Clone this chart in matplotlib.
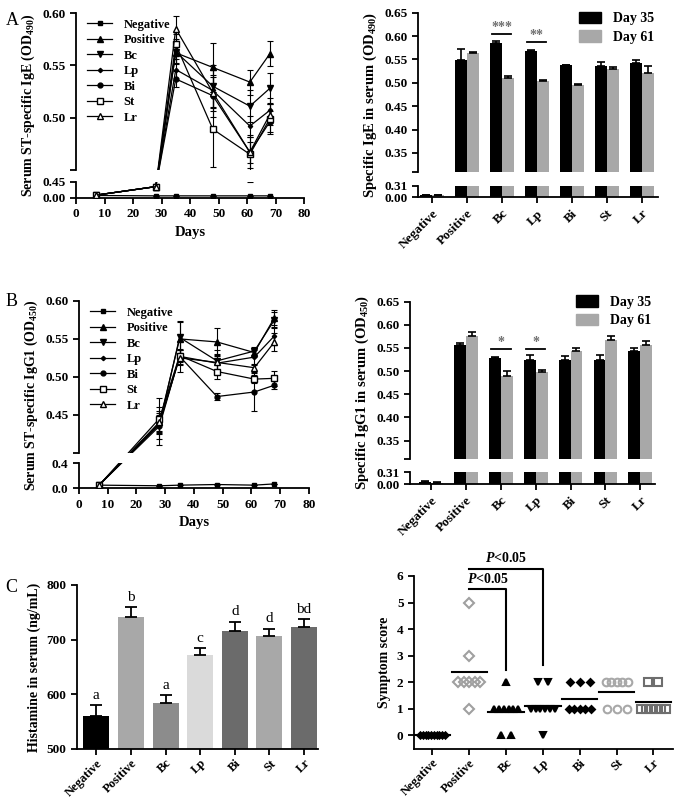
import numpy as np
import matplotlib
matplotlib.use('Agg')
import matplotlib.pyplot as plt
from matplotlib.patches import Rectangle

plt.rcParams['font.family'] = 'Liberation Serif'
plt.rcParams['font.weight'] = 'bold'
plt.rcParams['axes.labelweight'] = 'bold'
plt.rcParams['mathtext.fontset'] = 'custom'
plt.rcParams['mathtext.rm'] = 'Liberation Serif:bold'
plt.rcParams['mathtext.bf'] = 'Liberation Serif:bold'
plt.rcParams['mathtext.it'] = 'Liberation Serif:italic:bold'
plt.rcParams['axes.linewidth'] = 1.3
plt.rcParams['xtick.major.width'] = 1.3
plt.rcParams['ytick.major.width'] = 1.3
plt.rcParams['xtick.major.size'] = 4
plt.rcParams['ytick.major.size'] = 4
plt.rcParams['font.size'] = 9

groups = ['Negative', 'Positive', 'Bc', 'Lp', 'Bi', 'St', 'Lr']
days = [7, 28, 35, 48, 61, 68]

# A: serum IgE over time (rows follow groups)
ige_mean = [[0.07, 0.06, 0.06, 0.06, 0.06, 0.06],
            [0.08, 0.32, 0.562, 0.548, 0.534, 0.561],
            [0.08, 0.32, 0.563, 0.530, 0.511, 0.528],
            [0.08, 0.32, 0.546, 0.526, 0.492, 0.507],
            [0.08, 0.32, 0.537, 0.521, 0.467, 0.496],
            [0.08, 0.32, 0.570, 0.489, 0.465, 0.499],
            [0.08, 0.32, 0.585, 0.524, 0.467, 0.503]]
ige_err = [[0.003, 0.003, 0.003, 0.003, 0.003, 0.003],
           [0.005, 0.01, 0.010, 0.023, 0.012, 0.012],
           [0.005, 0.01, 0.012, 0.020, 0.015, 0.015],
           [0.005, 0.01, 0.010, 0.020, 0.010, 0.012],
           [0.005, 0.01, 0.008, 0.020, 0.015, 0.010],
           [0.005, 0.01, 0.010, 0.036, 0.018, 0.015],
           [0.005, 0.01, 0.012, 0.015, 0.010, 0.010]]

ige_d35 = [0.06, 0.548, 0.586, 0.568, 0.538, 0.536, 0.543]
ige_d35_err = [0.008, 0.024, 0.003, 0.002, 0.001, 0.009, 0.006]
ige_d61 = [0.05, 0.563, 0.511, 0.504, 0.496, 0.529, 0.521]
ige_d61_err = [0.005, 0.004, 0.003, 0.002, 0.001, 0.004, 0.015]

# B: serum IgG1 over time
igg_mean = [[0.05, 0.04, 0.05, 0.06, 0.05, 0.07],
            [0.05, 0.440, 0.550, 0.546, 0.532, 0.578],
            [0.05, 0.437, 0.552, 0.521, 0.534, 0.575],
            [0.05, 0.438, 0.527, 0.518, 0.526, 0.554],
            [0.05, 0.435, 0.527, 0.474, 0.480, 0.489],
            [0.05, 0.445, 0.528, 0.507, 0.497, 0.498],
            [0.05, 0.440, 0.525, 0.519, 0.512, 0.546]]
igg_err = [[0.003, 0.003, 0.003, 0.003, 0.003, 0.003],
           [0.003, 0.012, 0.024, 0.018, 0.006, 0.010],
           [0.003, 0.010, 0.020, 0.015, 0.005, 0.010],
           [0.003, 0.012, 0.010, 0.012, 0.010, 0.012],
           [0.003, 0.025, 0.020, 0.005, 0.025, 0.005],
           [0.003, 0.027, 0.008, 0.010, 0.005, 0.010],
           [0.003, 0.015, 0.010, 0.010, 0.005, 0.012]]

igg_d35 = [0.06, 0.556, 0.529, 0.525, 0.524, 0.525, 0.544]
igg_d35_err = [0.008, 0.005, 0.002, 0.009, 0.009, 0.009, 0.005]
igg_d61 = [0.04, 0.576, 0.489, 0.497, 0.543, 0.567, 0.556]
igg_d61_err = [0.004, 0.009, 0.011, 0.005, 0.006, 0.008, 0.009]

# C: histamine and symptom score
histamine = [561, 742, 585, 671, 715, 707, 724]
histamine_err = [19, 18, 14, 13, 18, 13, 13]
hist_letters = ['a', 'b', 'a', 'c', 'd', 'd', 'bd']
hist_colors = ['#000000', '#a8a8a8', '#8c8c8c', '#dadada', '#6b6b6b', '#a8a8a8', '#6b6b6b']

score_neg = [0, 0, 0, 0, 0, 0, 0, 0, 0, 0]
score_pos = [5, 3, 2, 2, 2, 2, 2, 1]
score_bc = [2, 1, 1, 1, 1, 1, 1, 0, 0]
score_lp = [2, 2, 1, 1, 1, 1, 1, 1, 0]
score_bi = [2, 2, 2, 1, 1, 1, 1, 1]
score_st = [2, 2, 2, 2, 2, 1, 1, 1]
score_lr = [2, 2, 1, 1, 1, 1, 1, 1]

line_markers = [('s', 2.5, 'k'), ('^', 4, 'k'), ('v', 4, 'k'), ('D', 2.2, 'k'),
                ('o', 3.5, 'k'), ('s', 4.5, 'white'), ('^', 4.5, 'white')]


def broken_y(ax, brk, top, fl, fg):
    fu = 1 - fl - fg

    def fwd(y):
        y = np.asarray(y, dtype=float)
        return np.where(y <= brk, y / brk * fl, fl + fg + (y - brk) / (top - brk) * fu)

    def inv(v):
        v = np.asarray(v, dtype=float)
        return np.where(v <= fl, v / fl * brk,
                        np.where(v >= fl + fg, brk + (v - fl - fg) / fu * (top - brk), brk))

    ax.set_yscale('function', functions=(fwd, inv))
    ax.set_ylim(0, top)
    ax.spines['left'].set_visible(False)
    ax.add_patch(Rectangle((0, fl), 1, fg, transform=ax.transAxes,
                           facecolor='white', edgecolor='none', zorder=5))
    ax.plot([0, 0], [0, fl], transform=ax.transAxes, color='k', lw=1.3, clip_on=False, zorder=6)
    ax.plot([0, 0], [fl + fg, 1], transform=ax.transAxes, color='k', lw=1.3, clip_on=False, zorder=6)


def style(ax):
    ax.spines['top'].set_visible(False)
    ax.spines['right'].set_visible(False)
    ax.tick_params(labelsize=9.5)


def line_panel(ax, means, errs, brk, top, fl, fg, yticks, ylabels, ylabel):
    style(ax)
    handles = []
    for i, g in enumerate(groups):
        m, ms, fc = line_markers[i]
        ax.errorbar(days, means[i], yerr=errs[i], fmt='none', ecolor='k',
                    elinewidth=0.8, capsize=2.5, capthick=0.8, zorder=3)
        ln, = ax.plot(days, means[i], marker=m, ms=ms, mfc=fc, mec='k', color='k',
                      lw=0.9, zorder=4)
        handles.append(ln)
    broken_y(ax, brk, top, fl, fg)
    ax.set_yticks(yticks)
    ax.set_yticklabels(ylabels)
    ax.set_xlim(0, 80)
    ax.set_xticks(range(0, 81, 10))
    ax.set_xlabel('Days', fontsize=10.5)
    ax.set_ylabel(ylabel, fontsize=10)
    ax.legend(handles, groups, loc='upper left', bbox_to_anchor=(0.0, 1.03), frameon=False,
              fontsize=9, handlelength=2.0, labelspacing=0.28, handletextpad=0.9)


def bar_panel(ax, d35, e35, d61, e61, brk, top, fl, fg, yticks, ylabels, ylabel, xlim, leg_y):
    style(ax)
    x = np.arange(len(groups))
    w = 0.34
    ax.bar(x - w / 2, d35, w, color='k', zorder=2)
    ax.bar(x + w / 2, d61, w, color='#a8a8a8', zorder=2)
    ax.errorbar(x - w / 2, d35, yerr=[np.zeros(7), e35], fmt='none', ecolor='k',
                elinewidth=1.2, capsize=3, capthick=1.2, zorder=3)
    ax.errorbar(x + w / 2, d61, yerr=[np.zeros(7), e61], fmt='none', ecolor='k',
                elinewidth=1.2, capsize=3, capthick=1.2, zorder=3)
    broken_y(ax, brk, top, fl, fg)
    ax.set_yticks(yticks)
    ax.set_yticklabels(ylabels)
    ax.set_xlim(*xlim)
    ax.set_xticks(x)
    ax.set_xticklabels(groups, rotation=45, ha='right', rotation_mode='anchor')
    ax.set_ylabel(ylabel, fontsize=10.5)
    ax.legend([Rectangle((0, 0), 1, 1, color='k'), Rectangle((0, 0), 1, 1, color='#a8a8a8')],
              ['Day 35', 'Day 61'], loc='upper right', bbox_to_anchor=(1.02, leg_y),
              frameon=False, fontsize=10, handlelength=1.6, handleheight=0.9,
              handletextpad=0.9, labelspacing=0.35, borderaxespad=0.2)


def sig(ax, xc, y, label):
    ax.plot([xc - 0.28, xc + 0.28], [y, y], color='k', lw=1.3, zorder=6)
    ax.text(xc, y, label, ha='center', va='bottom', color='#707070', fontsize=10)


fig = plt.figure(figsize=(6.75, 7.99), dpi=100)

# ---- A ----
ax1 = fig.add_axes([0.1126, 0.7522, 0.3378, 0.2315])
line_panel(ax1, ige_mean, ige_err, 0.45, 0.60, 0.0865, 0.0649,
           [0, 0.45, 0.45 + 1e-9, 0.50, 0.55, 0.60],
           ['0.00', '0.45', '', '0.50', '0.55', '0.60'],
           'Serum ST-specific IgE (OD$_{\\mathbf{490}}$)')

ax2 = fig.add_axes([0.6193, 0.7531, 0.3556, 0.2310])
bar_panel(ax2, ige_d35, ige_d35_err, ige_d61, ige_d61_err, 0.31, 0.65, 0.0628, 0.0758,
          [0, 0.31, 0.31 + 1e-9, 0.35, 0.40, 0.45, 0.50, 0.55, 0.60, 0.65],
          ['0.00', '0.31', '', '0.35', '0.40', '0.45', '0.50', '0.55', '0.60', '0.65'],
          'Specific IgE in serum (OD$_{\\mathbf{490}}$)', (-0.39, 6.47), 1.05)
sig(ax2, 2, 0.605, '***')
sig(ax2, 3, 0.587, '**')

# ---- B ----
ax3 = fig.add_axes([0.117, 0.3889, 0.3407, 0.2344])
line_panel(ax3, igg_mean, igg_err, 0.40, 0.60, 0.1335, 0.0566,
           [0, 0.40, 0.40 + 1e-9, 0.45, 0.50, 0.55, 0.60],
           ['0.0', '0.4', '', '0.45', '0.50', '0.55', '0.60'],
           'Serum ST-specific IgG1 (OD$_{\\mathbf{450}}$)')

ax4 = fig.add_axes([0.6074, 0.3942, 0.363, 0.2282])
bar_panel(ax4, igg_d35, igg_d35_err, igg_d61, igg_d61_err, 0.31, 0.65, 0.0642, 0.073,
          [0, 0.31, 0.31 + 1e-9, 0.35, 0.40, 0.45, 0.50, 0.55, 0.60, 0.65],
          ['0.00', '0.31', '', '0.35', '0.40', '0.45', '0.50', '0.55', '0.60', '0.65'],
          'Specific IgG1 in serum (OD$_{\\mathbf{450}}$)', (-0.6, 6.42), 1.08)
sig(ax4, 2, 0.548, '*')
sig(ax4, 3, 0.548, '*')

# ---- C left ----
ax5 = fig.add_axes([0.114, 0.0626, 0.357, 0.2053])
style(ax5)
xc = np.arange(len(groups))
ax5.bar(xc, histamine, 0.75, color=hist_colors, zorder=2)
ax5.errorbar(xc, histamine, yerr=[np.zeros(7), histamine_err], fmt='none', ecolor='k',
             elinewidth=1.3, capsize=4, capthick=1.3, zorder=3)
for i in range(len(groups)):
    ax5.text(xc[i], histamine[i] + histamine_err[i] + 6, hist_letters[i], ha='center',
             va='bottom', fontsize=11, fontweight='normal')
ax5.set_ylim(500, 800)
ax5.set_yticks([500, 600, 700, 800])
ax5.set_xlim(-0.56, 6.4)
ax5.set_xticks(xc)
ax5.set_xticklabels(groups, rotation=45, ha='right', rotation_mode='anchor')
ax5.tick_params(axis='x', labelsize=9, pad=2)
ax5.set_ylabel('Histamine in serum (ng/mL)', fontsize=10)

# ---- C right ----
ax6 = fig.add_axes([0.6133, 0.063, 0.3837, 0.2161])
style(ax6)
scores = [score_neg, score_pos, score_bc, score_lp, score_bi, score_st, score_lr]
sc_style = [('D', 3.2, 'k', 'k'), ('D', 5, 'none', '#a0a0a0'), ('^', 4.5, 'k', 'k'),
            ('v', 4.5, 'k', 'k'), ('D', 3.5, 'k', 'k'), ('o', 5.5, 'none', '#a8a8a8'),
            ('s', 5.5, 'none', '#6e6e6e')]
for i, s in enumerate(scores):
    s = np.array(s)
    xs = np.zeros(len(s), dtype=float)
    for v in np.unique(s):
        idx = np.where(s == v)[0]
        k = len(idx)
        step = 0.15 if k >= 4 else 0.27
        step = min(step, 0.67 / max(k - 1, 1))
        xs[idx] = i + (np.arange(k) - (k - 1) / 2) * step
    m, ms, fc, ec = sc_style[i]
    ax6.plot(xs, s, ls='none', marker=m, ms=ms, mfc=fc, mec=ec, mew=1.5, zorder=3)
    ax6.plot([i - 0.48, i + 0.48], [s.mean(), s.mean()], color='k', lw=1.5, zorder=4)

ax6.plot([1, 2, 2], [5.5, 5.5, 2.45], color='k', lw=1.5, clip_on=False)
ax6.plot([1, 3, 3], [6.25, 6.25, 2.65], color='k', lw=1.5, clip_on=False)
ax6.text(1.5, 5.62, '$\\mathit{P}$<0.05', ha='center', va='bottom', fontsize=10)
ax6.text(2.0, 6.4, '$\\mathit{P}$<0.05', ha='center', va='bottom', fontsize=10)
ax6.set_ylim(-0.5, 6)
ax6.set_yticks(range(0, 7))
ax6.spines['left'].set_bounds(-0.5, 6)
ax6.set_xlim(-0.5, 6.53)
ax6.set_xticks(xc)
ax6.set_xticklabels(groups, rotation=45, ha='right', rotation_mode='anchor')
ax6.tick_params(axis='x', labelsize=9, pad=2)
ax6.set_ylabel('Symptom score', fontsize=10)

for lab, y in [('A', 0.985), ('B', 0.633), ('C', 0.275)]:
    fig.text(0.008, y, lab, fontsize=13, fontweight='normal', va='top')

fig.savefig('out.png', dpi=100)
